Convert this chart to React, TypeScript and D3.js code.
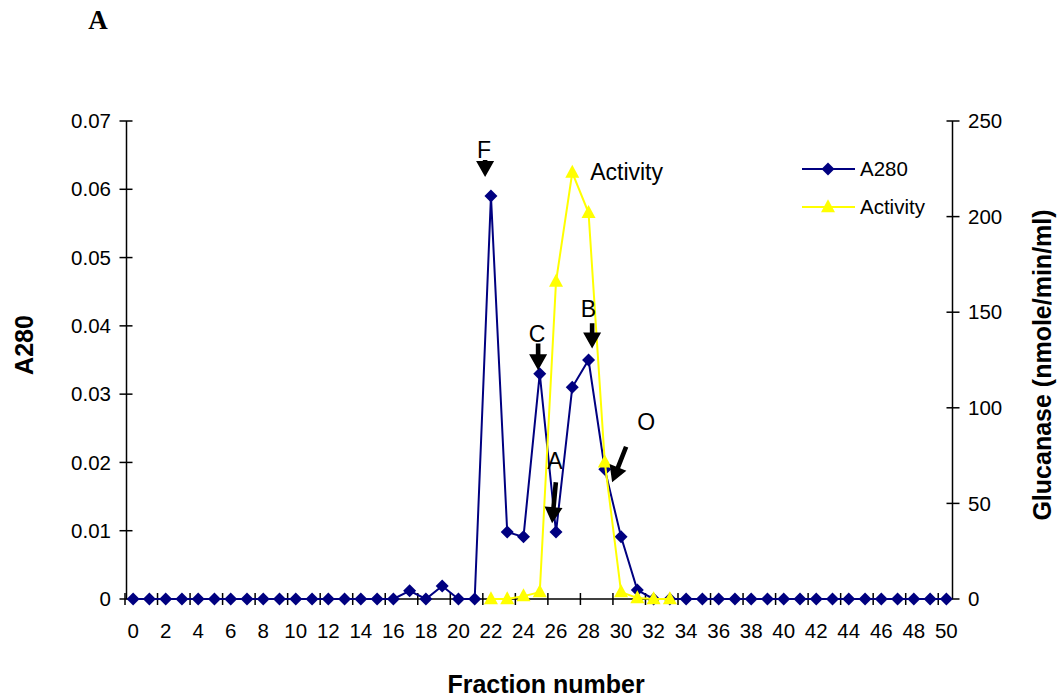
import React from 'react';
import * as d3 from 'd3';

// fraction numbers 0..50 on the category axis
const fractions: number[] = d3.range(0, 51);

// A280 reading per fraction (left axis)
const a280: number[] = [
  0, 0, 0, 0, 0, 0, 0, 0, 0, 0, 0, 0, 0, 0, 0, 0, 0,
  0.0012, 0, 0.0019, 0, 0,
  0.059, 0.0098, 0.0091, 0.033, 0.0098, 0.031, 0.035, 0.019, 0.0091, 0.0013,
  0, 0, 0, 0, 0, 0, 0, 0, 0, 0, 0, 0, 0, 0, 0, 0, 0, 0, 0,
];

// glucanase activity (right axis), only measured for fractions 22..33
const activityFractions: number[] = [22, 23, 24, 25, 26, 27, 28, 29, 30, 31, 32, 33];
const activity: number[] = [0, 0, 1.5, 3.6, 166, 223, 202, 71.5, 3.6, 0.5, 0, 0];

const leftTicks: number[] = [0, 0.01, 0.02, 0.03, 0.04, 0.05, 0.06, 0.07];
const rightTicks: number[] = [0, 50, 100, 150, 200, 250];

// peak markers, in data units (fraction, A280)
const peakLabels = [
  { text: 'F', x: 21.58, y: 0.0646 },
  { text: 'C', x: 24.84, y: 0.0376 },
  { text: 'B', x: 28.0, y: 0.0413 },
  { text: 'A', x: 25.94, y: 0.019 },
  { text: 'O', x: 31.55, y: 0.0248 },
];
const peakArrows = [
  { x0: 21.64, y0: 0.0643, x1: 21.64, y1: 0.0618 },
  { x0: 24.9, y0: 0.0374, x1: 24.9, y1: 0.0335 },
  { x0: 28.22, y0: 0.0404, x1: 28.22, y1: 0.0367 },
  { x0: 25.99, y0: 0.0171, x1: 25.76, y1: 0.0111 },
  { x0: 30.31, y0: 0.0223, x1: 29.45, y1: 0.0171 },
];

const W = 1061;
const H = 700;
const plotLeft = 126.5;
const plotRight = 952.5;
const plotTop = 121;
const plotBottom = 599;
const FONT = '"Liberation Sans", Arial, sans-serif';
const NAVY = '#000080';
const YELLOW = '#FFFF00';

const x = d3.scaleBand<number>().domain(fractions).range([125, 954.5]).padding(0);
const cx = (f: number) => (x(Math.floor(f)) as number) + x.bandwidth() / 2 + (f - Math.floor(f)) * x.bandwidth();
const yL = d3.scaleLinear().domain([0, 0.07]).range([plotBottom, plotTop]);
const yR = d3.scaleLinear().domain([0, 250]).range([plotBottom, plotTop]);

const diamond = (px: number, py: number, r = 6.5) =>
  `M${px},${py - r}L${px + r},${py}L${px},${py + r}L${px - r},${py}Z`;
const triangle = (px: number, py: number, w = 14, h = 13) =>
  `M${px},${py - h * 0.6}L${px + w / 2},${py + h * 0.4}L${px - w / 2},${py + h * 0.4}Z`;

function arrowPath(x0: number, y0: number, x1: number, y1: number) {
  const dx = x1 - x0;
  const dy = y1 - y0;
  const len = Math.hypot(dx, dy);
  const ux = dx / len;
  const uy = dy / len;
  const nx = -uy;
  const ny = ux;
  const head = Math.min(16, len);
  const hw = 9;
  const sw = 2.3;
  const bx = x1 - ux * head;
  const by = y1 - uy * head;
  const pts = [
    [x0 + nx * sw, y0 + ny * sw],
    [bx + nx * sw, by + ny * sw],
    [bx + nx * hw, by + ny * hw],
    [x1, y1],
    [bx - nx * hw, by - ny * hw],
    [bx - nx * sw, by - ny * sw],
    [x0 - nx * sw, y0 - ny * sw],
  ];
  return 'M' + pts.map((p) => p.join(',')).join('L') + 'Z';
}

export default function App() {
  const a280Line = d3.line<number>()
    .x((_, i) => cx(fractions[i]))
    .y((d) => yL(d));
  const actLine = d3.line<number>()
    .x((_, i) => cx(activityFractions[i]))
    .y((d) => yR(d));

  const evenFractions = fractions.filter((f) => f % 2 === 0);

  return (
    <svg width={W} height={H} style={{ position: 'absolute', left: 0, top: 0, background: '#fff' }}>
      <text x={98} y={29} fontFamily='"Liberation Serif", "Times New Roman", serif' fontWeight="bold" fontSize={27} textAnchor="middle">A</text>

      {/* axes */}
      <g stroke="#000" strokeWidth={1.5} fill="none">
        <line x1={plotLeft} y1={plotTop} x2={plotLeft} y2={plotBottom} />
        <line x1={plotRight} y1={plotTop} x2={plotRight} y2={plotBottom} />
        <line x1={plotLeft} y1={plotBottom} x2={plotRight} y2={plotBottom} />
        {leftTicks.map((t) => (
          <line key={'l' + t} x1={plotLeft - 7} x2={plotLeft + 6} y1={yL(t)} y2={yL(t)} />
        ))}
        {rightTicks.map((t) => (
          <line key={'r' + t} x1={plotRight - 6} x2={plotRight + 7} y1={yR(t)} y2={yR(t)} />
        ))}
        {evenFractions.map((f) => (
          <line key={'x' + f} x1={x(f) as number} x2={x(f) as number} y1={plotBottom - 6} y2={plotBottom + 6} />
        ))}
      </g>

      <g fontFamily={FONT} fontSize={20.5} fill="#000">
        {leftTicks.map((t) => (
          <text key={'lt' + t} x={111} y={yL(t)} dy="0.35em" textAnchor="end">{t === 0 ? '0' : t.toFixed(2)}</text>
        ))}
        {rightTicks.map((t) => (
          <text key={'rt' + t} x={968} y={yR(t)} dy="0.35em" textAnchor="start">{t}</text>
        ))}
        {evenFractions.map((f) => (
          <text key={'xt' + f} x={cx(f)} y={638} textAnchor="middle">{f}</text>
        ))}
      </g>

      {/* axis titles */}
      <g fontFamily={FONT} fontSize={25} fontWeight="bold" fill="#000">
        <text x={546} y={693} textAnchor="middle">Fraction number</text>
        <text transform="translate(33,345) rotate(-90)" textAnchor="middle">A280</text>
        <text transform="translate(1051,365) rotate(-90)" textAnchor="middle">Glucanase (nmole/min/ml)</text>
      </g>

      {/* A280 series */}
      <path d={a280Line(a280) ?? ''} fill="none" stroke={NAVY} strokeWidth={2} />
      {a280.map((v, i) => (
        <path key={'d' + i} d={diamond(cx(fractions[i]), yL(v))} fill={NAVY} />
      ))}

      {/* Activity series */}
      <path d={actLine(activity) ?? ''} fill="none" stroke={YELLOW} strokeWidth={2} />
      {activity.map((v, i) => (
        <path key={'t' + i} d={triangle(cx(activityFractions[i]), yR(v))} fill={YELLOW} />
      ))}

      {/* peak annotations */}
      <g fontFamily={FONT} fontSize={23} fill="#000">
        {peakLabels.map((p) => (
          <text key={p.text} x={cx(p.x)} y={yL(p.y)} textAnchor="middle">{p.text}</text>
        ))}
        <text x={cx(28.1)} y={yL(0.0614)} textAnchor="start">Activity</text>
      </g>
      {peakArrows.map((a, i) => (
        <path key={'ar' + i} d={arrowPath(cx(a.x0), yL(a.y0), cx(a.x1), yL(a.y1))} fill="#000" />
      ))}

      {/* legend */}
      <g fontFamily={FONT} fontSize={20.5}>
        <line x1={802} x2={855} y1={169} y2={169} stroke={NAVY} strokeWidth={2} />
        <path d={diamond(828, 169)} fill={NAVY} />
        <text x={860} y={169} dy="0.35em">A280</text>
        <line x1={802} x2={855} y1={207} y2={207} stroke={YELLOW} strokeWidth={2} />
        <path d={triangle(828, 207)} fill={YELLOW} />
        <text x={860} y={207} dy="0.35em">Activity</text>
      </g>
    </svg>
  );
}
